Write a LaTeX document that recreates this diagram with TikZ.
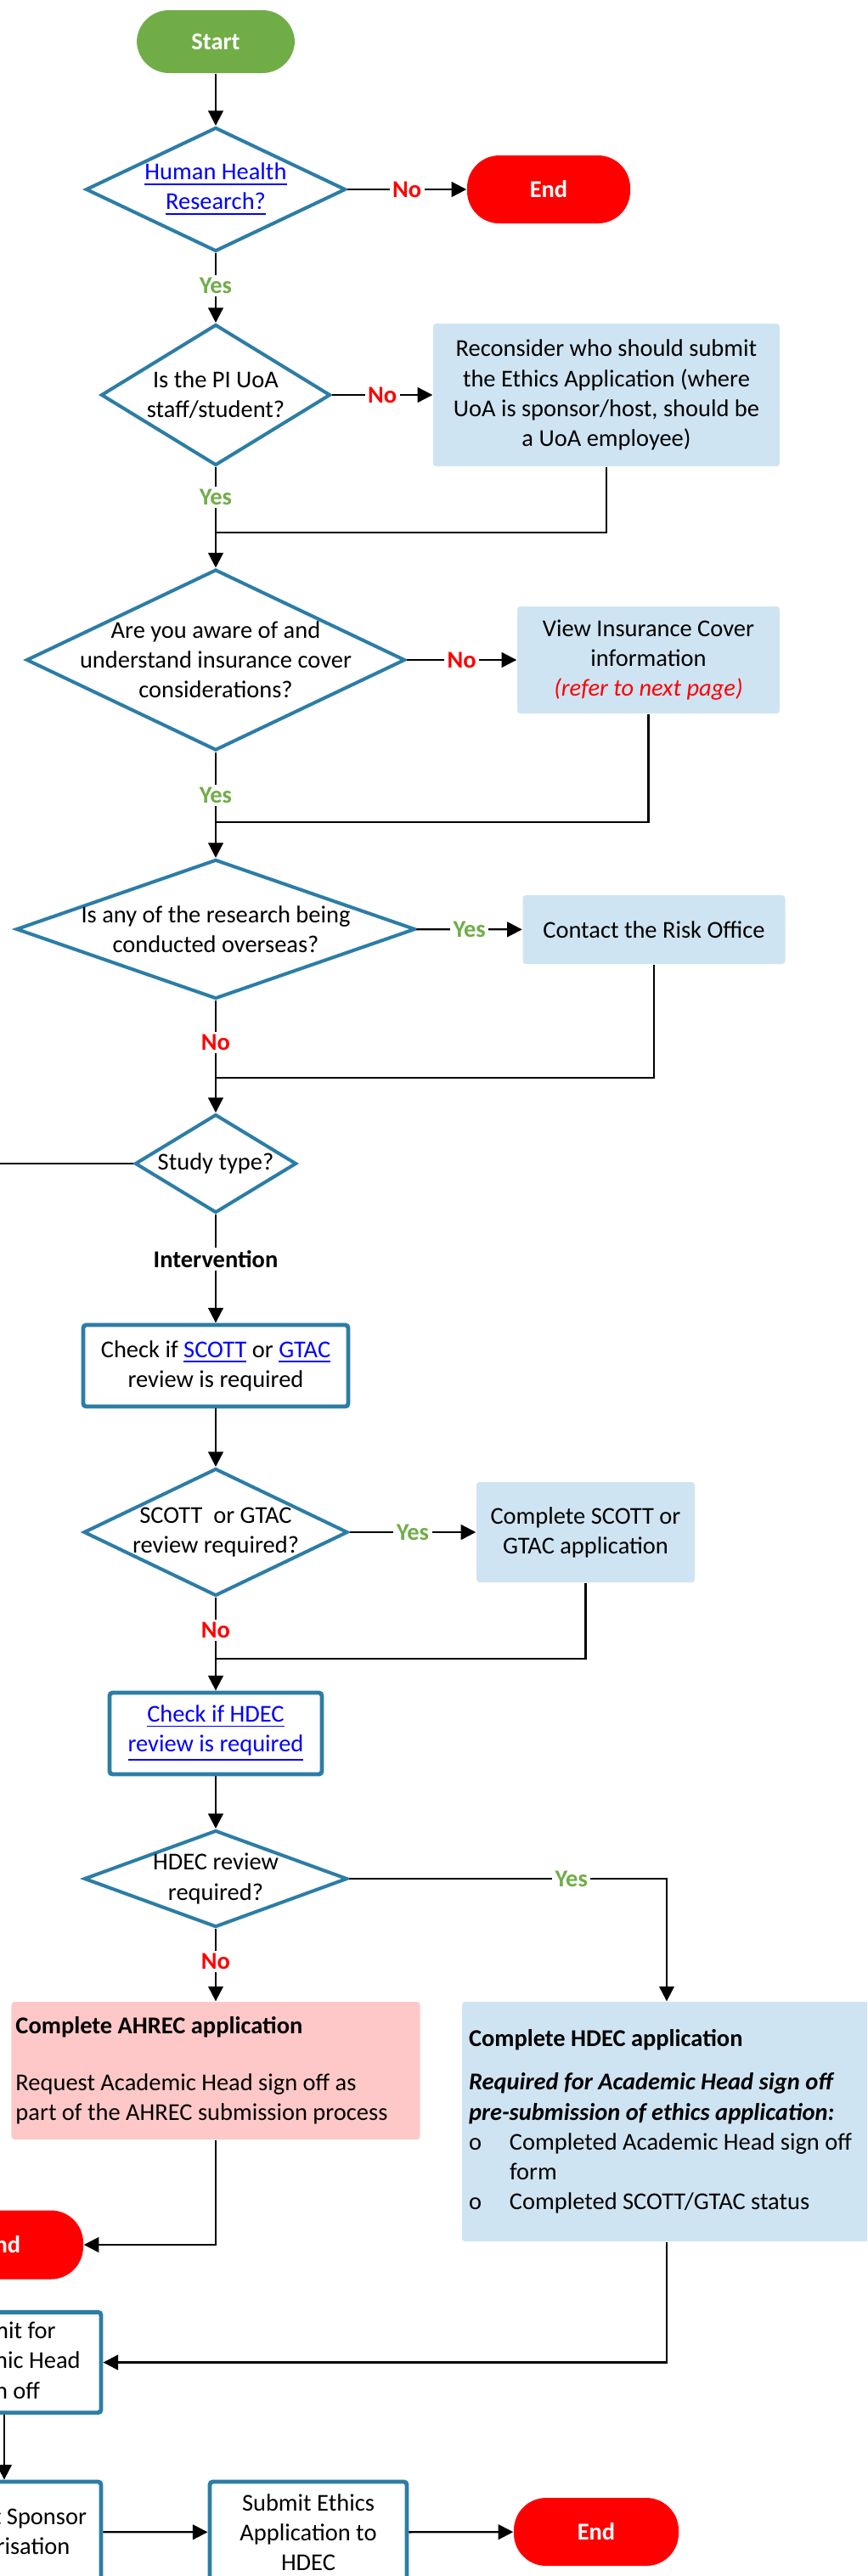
\documentclass[tikz,border=0pt]{standalone}
\usepackage{fontspec}
\setmainfont{Carlito}
\usepackage{tikz}
\usetikzlibrary{arrows.meta,positioning,shapes.geometric}
\definecolor{flowblue}{RGB}{44,125,166}
\definecolor{noteblue}{RGB}{207,228,242}
\definecolor{notepink}{RGB}{255,200,200}
\definecolor{startgreen}{RGB}{112,173,71}
\definecolor{endred}{RGB}{255,0,0}
\definecolor{linkblue}{RGB}{0,0,255}
\newcommand{\fsz}{\fontsize{8.1}{10}\selectfont}
\newcommand{\lnk}[1]{\textcolor{linkblue}{\underline{#1}}}

\begin{document}
\begin{tikzpicture}[font=\fsz,>={Triangle[length=5pt,width=5pt]},
  dec/.style={diamond,draw=flowblue,line width=1.15pt,fill=white,inner sep=0pt},
  proc/.style={draw=flowblue,line width=1.4pt,fill=white,align=center,rounded corners=1pt},
  note/.style={fill=noteblue,align=center,rounded corners=1pt},
  term/.style={rounded corners=0.38cm,text=white,font=\fsz\bfseries},
  ylab/.style={fill=white,text=startgreen,font=\fsz\bfseries,inner sep=1pt},
  nlab/.style={fill=white,text=endred,font=\fsz\bfseries,inner sep=1pt},
  flow/.style={line width=0.65pt},
  every label/.style={align=center}]
\useasboundingbox (0,0) rectangle (10.21,-30.33);
\clip (0,0) rectangle (10.21,-30.33);

\node[term,fill=startgreen,minimum width=1.86cm,minimum height=0.74cm] (S) at (2.54,-0.49) {Start};
\node[dec,minimum width=3.06cm,minimum height=1.46cm,
  label=center:{\lnk{Human Health}\\\lnk{Research?}}] (Q1) at (2.54,-2.23) {};
\node[term,fill=endred,minimum width=1.92cm,minimum height=0.80cm] (E1) at (6.46,-2.23) {End};
\node[dec,minimum width=2.70cm,minimum height=1.66cm,
  label=center:{Is the PI UoA\\staff/student?}] (Q2) at (2.54,-4.65) {};
\node[note,minimum width=4.08cm,minimum height=1.68cm] (R) at (7.14,-4.65)
  {Reconsider who should submit\\the Ethics Application (where\\UoA is sponsor/host, should be\\a UoA employee)};
\node[dec,minimum width=4.46cm,minimum height=2.13cm,
  label=center:{Are you aware of and\\understand insurance cover\\considerations?}] (Q3) at (2.54,-7.77) {};
\node[note,minimum width=3.09cm,minimum height=1.26cm] (I) at (7.635,-7.77)
  {View Insurance Cover\\information\\\textcolor{endred}{\textit{(refer to next page)}}};
\node[dec,minimum width=4.70cm,minimum height=1.64cm,
  label=center:{Is any of the research being\\conducted overseas?}] (Q4) at (2.54,-10.94) {};
\node[note,minimum width=3.09cm,minimum height=0.81cm] (K) at (7.70,-10.945) {Contact the Risk Office};
\node[dec,minimum width=1.90cm,minimum height=1.16cm,label=center:{Study type?}] (Q5) at (2.54,-13.70) {};
\node[proc,minimum width=3.12cm,minimum height=0.96cm] (C1) at (2.54,-16.08)
  {Check if \lnk{SCOTT} or \lnk{GTAC}\\review is required};
\node[dec,minimum width=3.11cm,minimum height=1.50cm,
  label=center:{SCOTT\ \ or GTAC\\review required?}] (Q6) at (2.54,-18.04) {};
\node[note,minimum width=2.57cm,minimum height=1.18cm] (C2) at (6.895,-18.04) {Complete SCOTT or\\GTAC application};
\node[proc,minimum width=2.50cm,minimum height=0.96cm] (H1) at (2.54,-20.41)
  {\lnk{Check if HDEC}\\\lnk{review is required}};
\node[dec,minimum width=3.10cm,minimum height=1.14cm,
  label=center:{HDEC review\\required?}] (Q7) at (2.54,-22.12) {};
\node[note,fill=notepink,align=flush left,text width=4.71cm,inner xsep=0.05cm,minimum height=1.62cm] (A) at (2.54,-24.38)
  {\textbf{Complete AHREC application}\\[9pt]Request Academic Head sign off as\\\mbox{part of the AHREC submission process}};
\node[note,align=flush left,text width=4.66cm,inner xsep=0.08cm,minimum height=2.82cm] (H2) at (7.85,-24.98)
  {\textbf{Complete HDEC application}\\[4.5pt]
   \textbf{\textit{Required for Academic Head sign off}}\\
   \textbf{\textit{pre-submission of ethics application:}}\\
   \makebox[0.48cm][l]{o}\mbox{Completed Academic Head sign off}\\
   \hspace*{0.48cm}form\\
   \makebox[0.48cm][l]{o}Completed SCOTT/GTAC status};
\node[term,fill=endred,minimum width=1.92cm,minimum height=0.81cm] (E2) at (0.02,-26.43) {End};
\node[proc,minimum width=2.28cm,minimum height=1.17cm] (AH) at (0.05,-27.815) {Submit for\\Academic Head\\sign off};
\node[proc,minimum width=2.28cm,minimum height=1.18cm] (SP) at (0.05,-29.81) {Request Sponsor\\authorisation};
\node[proc,minimum width=2.32cm,minimum height=1.19cm] (SE) at (3.63,-29.815) {Submit Ethics\\Application to\\HDEC};
\node[term,fill=endred,minimum width=1.94cm,minimum height=0.80cm] (E3) at (7.02,-29.81) {End};

\coordinate (J1) at (2.54,-6.27);
\coordinate (J2) at (2.54,-9.68);
\coordinate (J3) at (2.54,-12.69);
\coordinate (J4) at (2.54,-19.53);
\coordinate (L) at (-0.5,-13.70);

\draw[->,flow] (S) -- (Q1);
\draw[->,flow] (Q1) -- node[nlab]{No} (E1);
\draw[->,flow] (Q1) -- node[ylab,pos=0.47]{Yes} (Q2);
\draw[->,flow] (Q2) -- node[nlab]{No} (R);
\draw[->,flow] (Q2) -- node[ylab,pos=0.3]{Yes} (Q3);
\draw[flow] (R.south) |- (J1);
\draw[->,flow] (Q3) -- node[nlab]{No} (I);
\draw[->,flow] (Q3) -- node[ylab,pos=0.41]{Yes} (Q4);
\draw[flow] (I.south) |- (J2);
\draw[->,flow] (Q4) -- node[ylab]{Yes} (K);
\draw[->,flow] (Q4) -- node[nlab,pos=0.375]{No} (Q5);
\draw[flow] (K.south) |- (J3);
\draw[flow] (Q5.west) -- (L);
\draw[->,flow] (Q5) -- node[fill=white,font=\fsz\bfseries,inner sep=1pt,pos=0.41]{Intervention} (C1);
\draw[->,flow] (C1) -- (Q6);
\draw[->,flow] (Q6) -- node[ylab]{Yes} (C2);
\draw[->,flow] (Q6) -- node[nlab,pos=0.35]{No} (H1);
\draw[flow] (C2.south) |- (J4);
\draw[->,flow] (H1) -- (Q7);
\draw[->,flow] (Q7.east) -| node[ylab,pos=0.35]{Yes} (H2.north);
\draw[->,flow] (Q7) -- node[nlab,pos=0.45]{No} (A);
\draw[->,flow] (A.south) |- (E2.east);
\draw[->,flow] (H2.south) |- (AH.east);
\draw[->,flow] (AH) -- (SP);
\draw[->,flow] (SP) -- (SE);
\draw[->,flow] (SE) -- (E3);
\end{tikzpicture}
\end{document}
